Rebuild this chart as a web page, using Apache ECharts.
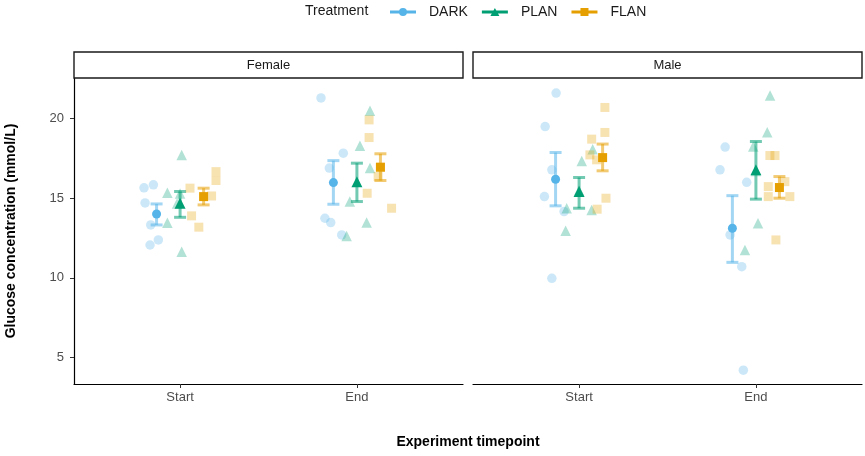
<!DOCTYPE html>
<html>
<head>
<meta charset="utf-8">
<script src="https://cdn.jsdelivr.net/npm/echarts@6/dist/echarts.min.js"></script>
<style>html,body{margin:0;padding:0;background:#fff}#c{width:865px;height:456px}</style>
</head>
<body>
<div id="c"></div>
<script>
// ---- data ----
const timepoints = ['Start', 'End'];
const treatments = ['DARK', 'PLAN', 'FLAN'];
const panels = ['Female', 'Male'];
const yTicks = [5, 10, 15, 20];

// raw glucose values, [Start values, End values]
const femaleDark = [[15.65, 15.84, 14.7, 13.32, 12.06, 12.38], [21.3, 17.83, 16.89, 13.74, 13.47, 12.69]];
const femalePlan = [[17.72, 15.35, 13.46, 11.64, 15.3, 14.67], [20.49, 18.29, 16.89, 14.79, 13.47, 12.63]];
const femaleFlan = [[16.67, 16.11, 15.63, 15.14, 13.89, 13.18], [19.92, 18.81, 16.36, 15.31, 14.37, 16.93]];
const maleDark = [[21.6, 19.5, 16.78, 15.1, 14.16, 9.97], [18.21, 16.78, 16.0, 12.69, 10.7, 4.2]];
const malePlan = [[17.34, 18.08, 14.37, 14.26, 12.96, 15.49], [21.45, 19.15, 18.25, 13.43, 11.75, 16.71]];
const maleFlan = [[20.7, 19.13, 18.71, 17.72, 17.41, 15.0, 14.31], [17.68, 17.68, 15.73, 16.04, 15.1, 15.1, 12.38]];

// horizontal jitter of each raw point (x units)
const femaleDarkJit = [[-0.071, -0.018, -0.065, -0.033, -0.037, 0.010], [-0.070, 0.056, -0.023, -0.048, -0.015, 0.047]];
const femalePlanJit = [[0.009, -0.072, -0.072, 0.009, 0.0, -0.017], [0.074, 0.017, 0.074, -0.040, 0.055, -0.058]];
const femaleFlanJit = [[0.070, 0.070, -0.077, 0.045, -0.068, -0.027], [-0.064, -0.064, -0.013, -0.075, 0.063, 0.0]];
const maleDarkJit = [[0.003, -0.059, -0.021, -0.063, 0.048, -0.021], [-0.041, -0.070, 0.081, -0.013, 0.053, 0.062]];
const malePlanJit = [[0.015, 0.077, -0.070, 0.071, -0.076, 0.0], [0.080, 0.064, -0.015, 0.012, -0.062, 0.0]];
const maleFlanJit = [[0.013, 0.013, -0.062, -0.072, -0.034, 0.019, -0.031], [-0.054, -0.025, -0.063, 0.031, -0.063, 0.059, -0.020]];

// means and error-bar bounds, per treatment [Start, End]
const femaleMean = [[14.01, 15.98], [14.69, 16.04], [15.1, 16.95]];
const femaleLow  = [[13.32, 14.62], [13.8, 14.79], [14.58, 16.11]];
const femaleHigh = [[14.64, 17.36], [15.42, 17.2], [15.63, 17.79]];
const maleMean = [[16.19, 13.11], [15.42, 16.78], [17.55, 15.67]];
const maleLow  = [[14.52, 10.97], [14.37, 14.94], [16.72, 15.0]];
const maleHigh = [[17.87, 15.16], [16.3, 18.56], [18.4, 16.36]];

// ---- styling / layout ----
const colors = ['#56B4E9', '#009E73', '#E69F00'];
const symbols = ['circle', 'triangle', 'rect'];
const rawSizes = [9.5, 10.5, 9];
const meanSizes = [9, 11, 9];
const dodge = [-0.133, 0, 0.133];
const FONT = 'Liberation Sans, Arial, sans-serif';
const gridDefs = [
  { left: 74, top: 78, width: 389, height: 306 },
  { left: 473, top: 78, width: 389, height: 306 }
];

const panelData = [
  { raw: [femaleDark, femalePlan, femaleFlan], jit: [femaleDarkJit, femalePlanJit, femaleFlanJit], mean: femaleMean, low: femaleLow, high: femaleHigh },
  { raw: [maleDark, malePlan, maleFlan], jit: [maleDarkJit, malePlanJit, maleFlanJit], mean: maleMean, low: maleLow, high: maleHigh }
];

const rawSeries = [], errSeries = [], meanSeries = [];
panelData.forEach((p, gi) => {
  treatments.forEach((tr, k) => {
    const pts = [], mpts = [], epts = [];
    timepoints.forEach((tp, t) => {
      p.raw[k][t].forEach((v, i) => pts.push([t + 1 + dodge[k] + p.jit[k][t][i], v]));
      mpts.push([t + 1 + dodge[k], p.mean[k][t]]);
      epts.push([t + 1 + dodge[k], p.low[k][t], p.high[k][t]]);
    });
    rawSeries.push({
      name: tr, type: 'scatter', xAxisIndex: gi, yAxisIndex: gi,
      symbol: symbols[k], symbolSize: rawSizes[k], data: pts,
      itemStyle: { color: colors[k], opacity: 0.3 }, silent: true
    });
    errSeries.push({
      name: tr, type: 'custom', xAxisIndex: gi, yAxisIndex: gi,
      encode: { x: 0, y: [1, 2] }, data: epts, silent: true,
      renderItem: (params, api) => {
        const x = api.value(0);
        const a = api.coord([x, api.value(2)]);
        const b = api.coord([x, api.value(1)]);
        const w = 6;
        const st = { stroke: colors[k], lineWidth: 3, opacity: 0.55, fill: null };
        return {
          type: 'group', children: [
            { type: 'line', shape: { x1: a[0], y1: a[1], x2: b[0], y2: b[1] }, style: st },
            { type: 'line', shape: { x1: a[0] - w, y1: a[1], x2: a[0] + w, y2: a[1] }, style: st },
            { type: 'line', shape: { x1: b[0] - w, y1: b[1], x2: b[0] + w, y2: b[1] }, style: st }
          ]
        };
      }
    });
    meanSeries.push({
      name: tr, type: 'scatter', xAxisIndex: gi, yAxisIndex: gi,
      symbol: symbols[k], symbolSize: meanSizes[k], data: mpts,
      itemStyle: { color: colors[k], opacity: 1 }, silent: true
    });
  });
});

const legendIcons = [
  'path://M0,2.5H26V5.5H0Z M13,0A4,4 0 1 1 12.99,0Z',
  'path://M0,2.5H26V5.5H0Z M13,0L17.5,8L8.5,8Z',
  'path://M0,2.5H26V5.5H0Z M9,0H17V8H9Z'
];

const option = {
  animation: false,
  backgroundColor: '#fff',
  grid: gridDefs.map(g => Object.assign({}, g)),
  xAxis: gridDefs.map((g, gi) => ({
    type: 'value', gridIndex: gi, min: 0.4, max: 2.6,
    axisLine: { show: true, onZero: false, lineStyle: { color: '#000', width: 1.2 } },
    axisTick: { show: true, customValues: [1, 2], length: 4, lineStyle: { color: '#333', width: 1 } },
    axisLabel: { show: true, customValues: [1, 2], formatter: v => timepoints[Math.round(v) - 1], color: '#4d4d4d', fontSize: 13, margin: 7, fontFamily: FONT },
    splitLine: { show: false }
  })),
  yAxis: gridDefs.map((g, gi) => ({
    type: 'value', gridIndex: gi, min: 3.33, max: 22.55,
    axisLine: { show: gi === 0, lineStyle: { color: '#000', width: 1.2 } },
    axisTick: { show: gi === 0, customValues: yTicks, length: 4, lineStyle: { color: '#333', width: 1 } },
    axisLabel: { show: gi === 0, customValues: yTicks, color: '#4d4d4d', fontSize: 13, margin: 10, fontFamily: FONT },
    splitLine: { show: false }
  })),
  legend: {
    left: 385, top: 0, itemWidth: 26, itemHeight: 8, itemGap: 14,
    textStyle: { fontSize: 14, color: '#1a1a1a', padding: [0, 0, 0, 8], fontFamily: FONT },
    selectedMode: false,
    data: treatments.map((t, k) => ({ name: t, icon: legendIcons[k], itemStyle: { color: colors[k], opacity: 1 } }))
  },
  graphic: [
    { type: 'text', x: 305, y: 11, style: { text: 'Treatment', fontSize: 14, fill: '#1a1a1a', verticalAlign: 'middle', fontFamily: FONT } },
    ...gridDefs.map((g, gi) => ({
      type: 'rect', shape: { x: g.left, y: 52, width: g.width, height: 26 },
      style: { fill: '#fff', stroke: '#1a1a1a', lineWidth: 1.4 }, z: 10
    })),
    ...gridDefs.map((g, gi) => ({
      type: 'text', x: g.left + g.width / 2, y: 65, z: 11,
      style: { text: panels[gi], fontSize: 13, fill: '#1a1a1a', align: 'center', verticalAlign: 'middle', fontFamily: FONT }
    })),
    { type: 'text', x: 468, y: 442, style: { text: 'Experiment timepoint', fontSize: 14, fontWeight: 'bold', fill: '#000', align: 'center', verticalAlign: 'middle', fontFamily: FONT } },
    { type: 'text', x: 11, y: 231, rotation: Math.PI / 2, style: { text: 'Glucose concentration (mmol/L)', fontSize: 14, fontWeight: 'bold', fill: '#000', align: 'center', verticalAlign: 'middle', fontFamily: FONT } }
  ],
  series: [...rawSeries, ...errSeries, ...meanSeries]
};

const chart = echarts.init(document.getElementById('c'), null, { renderer: 'canvas' });
chart.setOption(option);
</script>
</body>
</html>
